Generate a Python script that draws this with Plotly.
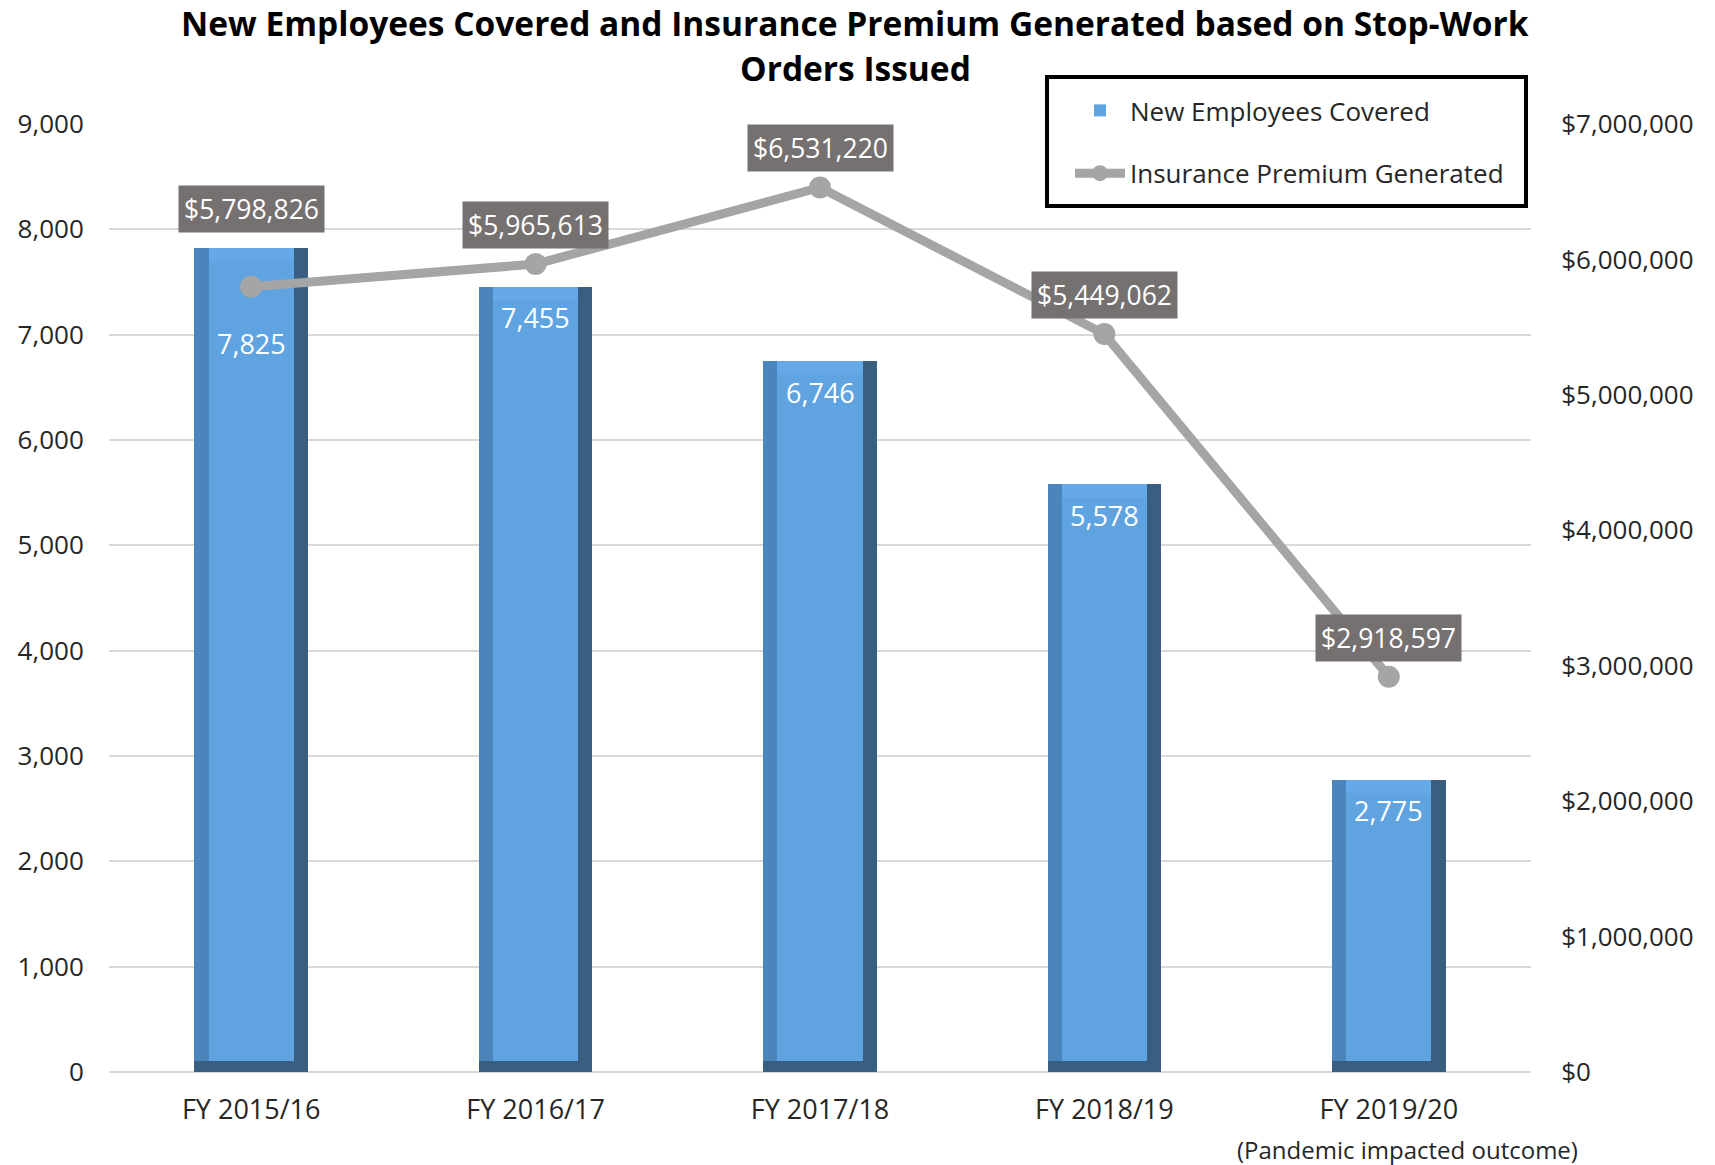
import plotly.graph_objects as go

categories = ["FY 2015/16", "FY 2016/17", "FY 2017/18", "FY 2018/19", "FY 2019/20"]
employees = [7825, 7455, 6746, 5578, 2775]
premium = [5798826, 5965613, 6531220, 5449062, 2918597]
employee_labels = ["7,825", "7,455", "6,746", "5,578", "2,775"]
premium_labels = ["$5,798,826", "$5,965,613", "$6,531,220", "$5,449,062", "$2,918,597"]
left_ticks = [0, 1000, 2000, 3000, 4000, 5000, 6000, 7000, 8000, 9000]
left_ticktext = ["0", "1,000", "2,000", "3,000", "4,000", "5,000", "6,000", "7,000", "8,000", "9,000"]
right_ticks = [0, 1000000, 2000000, 3000000, 4000000, 5000000, 6000000, 7000000]
right_ticktext = ["$0", "$1,000,000", "$2,000,000", "$3,000,000", "$4,000,000",
                  "$5,000,000", "$6,000,000", "$7,000,000"]
title_lines = ["New Employees Covered and Insurance Premium Generated based on Stop-Work",
               "Orders Issued"]
footnote = "(Pandemic impacted outcome)"

FONT = "Open Sans"
TXT = "#262626"

# bevel styling (bar width / bevel sizes in axis units)
BW = 0.4
BEV_X = 0.05
BEV_BOT = 105
BEV_TOP = 125

L, R, T, B = 101, 184, 116, 93
W, H = 1707, 1157
PW, PH = W - L - R, H - T - B


def px_to_paper_x(px):
    return (px - L) / PW


def px_to_paper_y(py):
    return (H - B - py) / PH


fig = go.Figure()

# dark base (right + bottom bevel)
fig.add_trace(go.Bar(x=categories, y=employees, width=BW, offset=-BW / 2,
                     marker=dict(color="#3A5E80", line_width=0),
                     legendgroup="bars", showlegend=False, hoverinfo="skip"))
# left bevel
fig.add_trace(go.Bar(x=categories, y=[v - BEV_BOT for v in employees], base=BEV_BOT,
                     width=BW - BEV_X, offset=-BW / 2,
                     marker=dict(color="#4A85BC", line_width=0),
                     legendgroup="bars", showlegend=False, hoverinfo="skip"))
# top bevel
fig.add_trace(go.Bar(x=categories, y=[BEV_TOP] * len(employees),
                     base=[v - BEV_TOP for v in employees],
                     width=BW - 2 * BEV_X, offset=-BW / 2 + BEV_X,
                     marker=dict(color="#65A9E8", line_width=0),
                     legendgroup="bars", showlegend=False, hoverinfo="skip"))
# face
fig.add_trace(go.Bar(x=categories, y=[v - BEV_BOT - BEV_TOP for v in employees], base=BEV_BOT,
                     width=BW - 2 * BEV_X, offset=-BW / 2 + BEV_X,
                     marker=dict(color="#60A3E1", line_width=0),
                     name="New Employees Covered", legendgroup="bars", showlegend=True))

# premium line
fig.add_trace(go.Scatter(x=categories, y=premium, yaxis="y2", mode="lines+markers",
                         line=dict(color="#A5A5A5", width=9),
                         marker=dict(color="#A5A5A5", size=22),
                         name="Insurance Premium Generated", legendgroup="line"))

annotations = []
emp_shift = [-96, -31, -31, -31, -31]
for c, v, t, s in zip(categories, employees, employee_labels, emp_shift):
    annotations.append(dict(x=c, y=v, xref="x", yref="y", text=t, showarrow=False,
                            yshift=s, font=dict(family=FONT, size=27, color="white")))
prem_shift = [78, 39, 39, 39, 39]
for c, v, t, s in zip(categories, premium, premium_labels, prem_shift):
    annotations.append(dict(x=c, y=v, xref="x", yref="y2", text=t, showarrow=False,
                            yshift=s, bgcolor="#767171", borderpad=5,
                            font=dict(family=FONT, size=26.5, color="white")))
annotations.append(dict(x=categories[-1], y=0, xref="x", yref="paper", text=footnote,
                        showarrow=False, yanchor="middle", yshift=-77, xshift=19,
                        font=dict(family=FONT, size=24, color=TXT)))
for txt, py in zip(title_lines, [15, 60]):
    annotations.append(dict(x=px_to_paper_x(847), y=px_to_paper_y(py), xref="paper", yref="paper",
                            text="<b>" + txt + "</b>",
                            showarrow=False, xanchor="center", yanchor="middle",
                            font=dict(family=FONT, size=33.5, color="black")))

fig.update_layout(
    width=W, height=H,
    margin=dict(l=L, r=R, t=T, b=B),
    paper_bgcolor="white", plot_bgcolor="white",
    barmode="overlay", bargap=0,
    xaxis=dict(type="category", range=[-0.5, len(categories) - 0.5], automargin=False,
               showgrid=False, showline=False, zeroline=False,
               tickfont=dict(family=FONT, size=27, color=TXT), ticks="outside",
               ticklen=14, tickcolor="rgba(0,0,0,0)"),
    yaxis=dict(range=[0, 9000], tickvals=left_ticks, ticktext=left_ticktext, showgrid=True,
               automargin=False,
               gridcolor="#D9D9D9", gridwidth=2, zeroline=True, zerolinecolor="#D9D9D9",
               zerolinewidth=2, showline=False,
               tickfont=dict(family=FONT, size=26, color=TXT), ticks="outside",
               ticklen=19, tickcolor="rgba(0,0,0,0)"),
    yaxis2=dict(range=[0, 7000000], tickvals=right_ticks, ticktext=right_ticktext,
                automargin=False,
                overlaying="y", side="right", showgrid=False, zeroline=False, showline=False,
                tickfont=dict(family=FONT, size=26, color=TXT), ticks="outside",
                ticklen=24, tickcolor="rgba(0,0,0,0)"),
    legend=dict(x=px_to_paper_x(1062), y=px_to_paper_y(79), xanchor="left", yanchor="top",
                bgcolor="rgba(0,0,0,0)", borderwidth=0,
                font=dict(family=FONT, size=26, color=TXT),
                tracegroupgap=26, itemwidth=50),
    shapes=[dict(type="rect", xref="paper", yref="paper",
                 x0=px_to_paper_x(1039), x1=px_to_paper_x(1518),
                 y0=px_to_paper_y(198), y1=px_to_paper_y(69),
                 line=dict(color="black", width=4),
                 fillcolor="white", layer="above")],
    annotations=annotations,
)

fig.write_html("out.html")
